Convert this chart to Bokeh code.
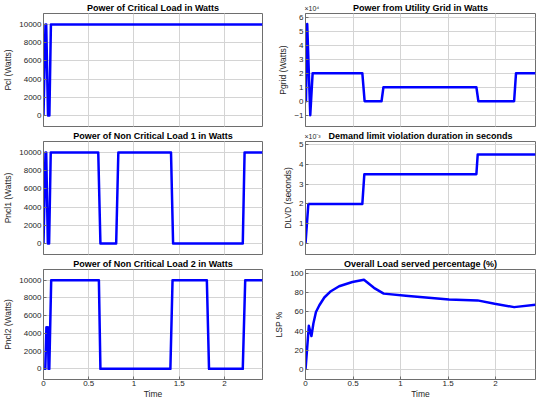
import numpy as np
from bokeh.plotting import figure
from bokeh.layouts import gridplot
from bokeh.models import FixedTicker, Range1d, Grid, Title
from bokeh.embed import file_html
from bokeh.resources import INLINE

# ---------------- data ----------------
time_pcl = [0, 0.022, 0.030, 0.050, 0.065, 0.082, 2.42]
pcl_watts = [0, 10000, 10000, 0, 0, 10000, 10000]

time_pncl1 = [0, 0.022, 0.030, 0.048, 0.062, 0.080, 0.605, 0.629, 0.803, 0.827,
              1.409, 1.432, 2.202, 2.222, 2.42]
pncl1_watts = [0, 10000, 10000, 0, 0, 10000, 10000, 0, 0, 10000,
               10000, 0, 0, 10000, 10000]

time_pncl2 = [0, 0.020, 0.032, 0.040, 0.048, 0.056, 0.064, 0.085, 0.612, 0.629,
              1.402, 1.426, 1.805, 1.829, 2.202, 2.229, 2.42]
pncl2_watts = [0, 0, 4700, 2500, 4700, 0, 0, 10000, 10000, 0,
               0, 10000, 10000, 0, 0, 10000, 10000]

time_pgrid = [0, 0.005, 0.018, 0.050, 0.075, 0.598, 0.622, 0.800, 0.820,
              1.798, 1.819, 2.195, 2.215, 2.42]
pgrid_watts = [0, 0, 55000, -10000, 20000, 20000, 0, 0, 10000,
               10000, 0, 0, 20000, 20000]

time_dlvd = [0, 0.030, 0.598, 0.619, 1.798, 1.812, 2.42]
dlvd_seconds = [0, 0.002, 0.002, 0.0035, 0.0035, 0.0045, 0.0045]

time_lsp = [0, 0.035, 0.0625, 0.083, 0.110, 0.146, 0.198, 0.267, 0.354, 0.493,
            0.615, 0.720, 0.823, 1.083, 1.51, 1.81, 1.99, 2.195, 2.42]
lsp_percent = [0, 45.6, 35, 48, 60, 67, 75, 81.5, 86.6, 91,
               93.3, 85, 79, 76.5, 73, 72, 68.5, 65, 67.5]

x_ticks = [0, 0.5, 1, 1.5, 2]
load_ticks = [0, 2000, 4000, 6000, 8000, 10000]
grid_ticks = [-1, 0, 1, 2, 3, 4, 5, 6]
dlvd_ticks = [0, 1, 2, 3, 4, 5]
lsp_ticks = [0, 20, 40, 60, 80, 100]

# ---------------- style ----------------
FONT = "Liberation Sans"
BLUE = "#0000ff"
AX = "#6e6e6e"
GRIDC = "#d4d4d4"
X_END = 2.42

col_w = [271, 265]
col_left = [33, 32]
col_right = [9, 1]
row_h = [128, 128, 145]
row_top = [13, 13, 13]
row_bottom = [2, 2, 20]


def style_axis(ax):
    ax.axis_line_color = AX
    ax.major_tick_line_color = AX
    ax.major_tick_in = 3
    ax.major_tick_out = 0
    ax.minor_tick_line_color = None
    ax.major_label_text_font = FONT
    ax.major_label_text_font_size = "8px"
    ax.major_label_text_color = "#262626"
    ax.major_label_standoff = 2
    ax.axis_label_text_font = FONT
    ax.axis_label_text_font_size = "8.5px"
    ax.axis_label_text_font_style = "normal"
    ax.axis_label_text_color = "#262626"
    ax.axis_label_standoff = 3


def make_fig(row, col, title, ylabel, y_range, yticks, xs, ys, mult=""):
    bottom = row == 2
    p = figure(width=col_w[col], height=row_h[row], output_backend="svg",
               toolbar_location=None, tools="",
               x_range=Range1d(0, X_END), y_range=Range1d(*y_range),
               x_axis_location="below" if bottom else None,
               min_border_left=col_left[col], min_border_right=col_right[col],
               min_border_top=row_top[row], min_border_bottom=row_bottom[row])
    # outer title slot: the axis multiplier (left, small), pulled down to the title line
    p.title.text = mult
    p.title.text_font = FONT
    p.title.text_font_size = "7px"
    p.title.text_font_style = "normal"
    p.title.text_color = "#262626"
    p.title.align = "left"
    p.title.offset = -1
    p.title.standoff = -22
    # inner title slot: the main title
    p.add_layout(Title(text=title, align="center", text_font=FONT,
                       text_font_size="9px", text_font_style="bold",
                       text_color="#000000", standoff=1), "above")
    p.outline_line_color = AX
    p.outline_line_width = 1
    p.background_fill_color = "white"
    p.border_fill_color = "white"

    p.yaxis.ticker = FixedTicker(ticks=yticks)
    style_axis(p.yaxis[0])
    p.yaxis.axis_label = ylabel
    if bottom:
        p.xaxis.ticker = FixedTicker(ticks=x_ticks)
        style_axis(p.xaxis[0])
        p.xaxis.major_label_overrides = {0: "0", 1: "1", 2: "2"}
        p.xaxis.axis_label = "Time"
        p.xaxis.axis_label_text_font_size = "8.5px"
        p.xaxis.axis_label_standoff = 0
        p.xaxis.major_label_standoff = 1
    else:
        p.add_layout(Grid(dimension=0, ticker=FixedTicker(ticks=x_ticks)))
    p.grid.grid_line_color = GRIDC
    p.grid.grid_line_width = 1
    p.line(xs, ys, line_color=BLUE, line_width=2.5, line_join="round")
    return p


p1 = make_fig(0, 0, "Power of Critical Load in Watts", "Pcl (Watts)",
              (-1200, 11200), load_ticks, time_pcl, pcl_watts)
p2 = make_fig(0, 1, "Power from Utility Grid in Watts", "Pgrid (Watts)",
              (-1.8, 6.25), grid_ticks, time_pgrid,
              list(np.array(pgrid_watts) / 1e4), mult="×10⁴")
p3 = make_fig(1, 0, "Power of Non Critical Load 1 in Watts", "Pncl1 (Watts)",
              (-1200, 11200), load_ticks, time_pncl1, pncl1_watts)
p4 = make_fig(1, 1, "Demand limit violation duration in seconds", "DLVD (seconds)",
              (-0.55, 5.15), dlvd_ticks, time_dlvd,
              list(np.array(dlvd_seconds) * 1e3), mult="×10⁻³")
p5 = make_fig(2, 0, "Power of Non Critical Load 2 in Watts", "Pncl2 (Watts)",
              (-1200, 11200), load_ticks, time_pncl2, pncl2_watts)
p6 = make_fig(2, 1, "Overall Load served percentage (%)", "LSP %",
              (-10, 104), lsp_ticks, time_lsp, lsp_percent)

layout = gridplot([[p1, p2], [p3, p4], [p5, p6]], toolbar_location=None)

open("out.html", "w").write(file_html(layout, INLINE))
